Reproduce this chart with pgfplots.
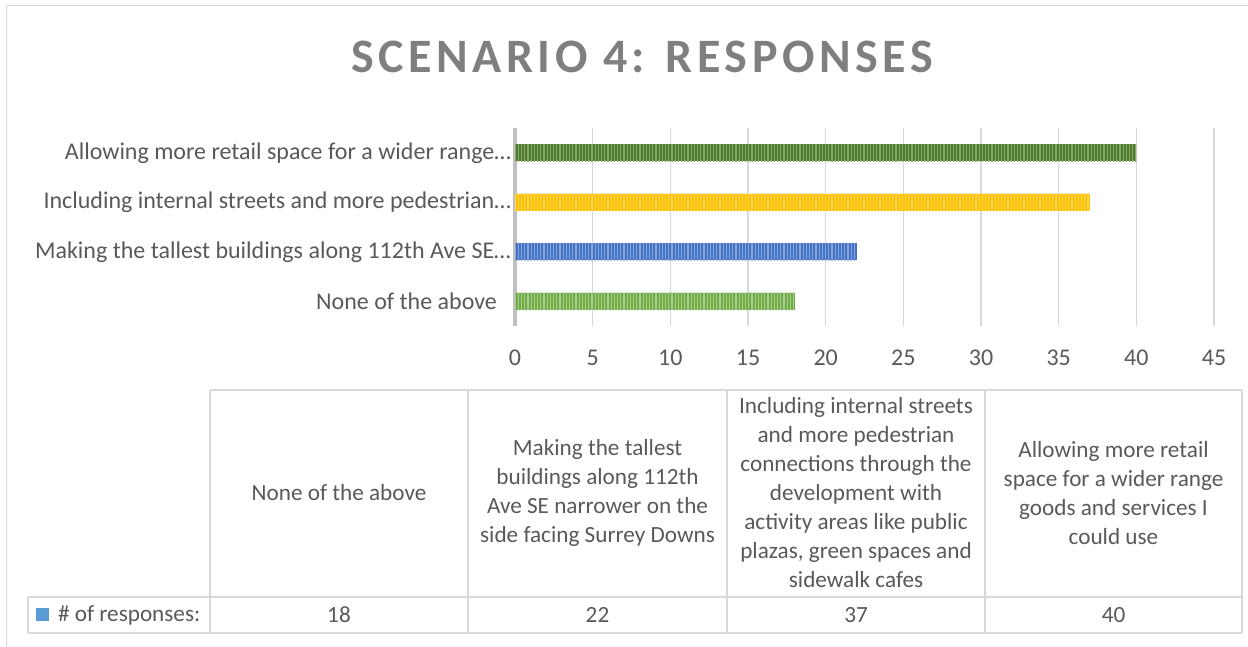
\documentclass[border=0pt]{standalone}
\usepackage{fontspec}
\setmainfont{Carlito}
\usepackage{pgfplots}
\pgfplotsset{compat=1.18}
\usetikzlibrary{patterns.meta}
\definecolor{txt}{HTML}{595959}
\definecolor{ttl}{HTML}{7F7F7F}
\definecolor{grd}{HTML}{D9D9D9}
\definecolor{yax}{HTML}{BFBFBF}
\definecolor{dg}{HTML}{507C30}
\definecolor{dgl}{HTML}{86A86B}
\definecolor{yl}{HTML}{FFC000}
\definecolor{yll}{HTML}{FFD65A}
\definecolor{bl}{HTML}{4472C4}
\definecolor{bll}{HTML}{86A3DA}
\definecolor{gr}{HTML}{70AD47}
\definecolor{grl}{HTML}{A5CC8C}
\definecolor{key}{HTML}{5B9BD5}
\begin{document}
\begin{tikzpicture}
\path[use as bounding box] (0,0) rectangle (624pt,-323.5pt);
% outer chart border (left and top visible)
\draw[grd, line width=0.75pt] (3.25pt,-323.5pt) -- (3.25pt,-2.75pt) -- (624pt,-2.75pt);
% title
\node[text=ttl, font={\fontsize{24}{28}\selectfont\bfseries\addfontfeatures{LetterSpace=9.5}}] at (321pt,-28.5pt) {SCENARIO 4: RESPONSES};
\begin{axis}[
  at={(257.5pt,-163pt)}, anchor=south west,
  scale only axis, width=349.5pt, height=99pt,
  xbar, bar width=8.5pt, bar shift=0pt,
  xmin=0, xmax=45, ymin=-0.5, ymax=3.5,
  xtick={0,5,...,45},
  ytick={0,1,2,3},
  yticklabels={None of the above\hspace*{7pt}, Making the tallest buildings along 112th Ave SE\ldots, Including internal streets and more pedestrian\ldots, Allowing more retail space for a wider range\ldots},
  axis lines=left, axis line style={-},
  x axis line style={draw=none},
  y axis line style={draw=yax, line width=2pt},
  major tick length=0pt,
  xmajorgrids, grid style={grd, line width=0.75pt},
  tick label style={text=txt, font=\fontsize{12}{14}\selectfont},
  /pgf/number format/assume math mode=true,
  xticklabel style={yshift=-8.5pt},
  yticklabel style={xshift=1.5pt},
  clip=false,
]
\addplot[draw=none, fill=gr, postaction={pattern={Lines[angle=90,distance=1.6pt,line width=0.65pt]}, pattern color=grl}] coordinates {(18,0)};
\addplot[draw=none, fill=bl, postaction={pattern={Lines[angle=90,distance=1.6pt,line width=0.65pt]}, pattern color=bll}] coordinates {(22,1)};
\addplot[draw=none, fill=yl, postaction={pattern={Lines[angle=90,distance=1.6pt,line width=0.65pt]}, pattern color=yll}] coordinates {(37,2)};
\addplot[draw=none, fill=dg, postaction={pattern={Lines[angle=90,distance=1.6pt,line width=0.65pt]}, pattern color=dgl}] coordinates {(40,3)};
\end{axis}
% data table
\begin{scope}[grd, line width=0.75pt]
\draw (105pt,-195pt) -- (621pt,-195pt);
\draw (14pt,-298.5pt) -- (621pt,-298.5pt);
\draw (14pt,-316.5pt) -- (621pt,-316.5pt);
\draw (14pt,-298.5pt) -- (14pt,-316.5pt);
\foreach \x in {105,234,363.5,492.5,621} \draw (\x pt,-195pt) -- (\x pt,-316.5pt);
\end{scope}
\begin{scope}[every node/.style={text=txt, align=center, font=\fontsize{11.6}{14.5}\selectfont}]
\node at (169.5pt,-246.5pt) {None of the above};
\node at (298.75pt,-246.5pt) {Making the tallest\\buildings along 112th\\Ave SE narrower on the\\side facing Surrey Downs};
\node at (428pt,-246.5pt) {Including internal streets\\and more pedestrian\\connections through the\\development with\\activity areas like public\\plazas, green spaces and\\sidewalk cafes};
\node at (556.75pt,-246.5pt) {Allowing more retail\\space for a wider range\\goods and services I\\could use};
\node at (169.5pt,-307.5pt) {18};
\node at (298.75pt,-307.5pt) {22};
\node at (428pt,-307.5pt) {37};
\node at (556.75pt,-307.5pt) {40};
\fill[key] (18pt,-304.2pt) rectangle (24.5pt,-310.5pt);
\node[anchor=west] at (25.5pt,-307.5pt) {\# of responses:};
\end{scope}
\end{tikzpicture}
\end{document}
